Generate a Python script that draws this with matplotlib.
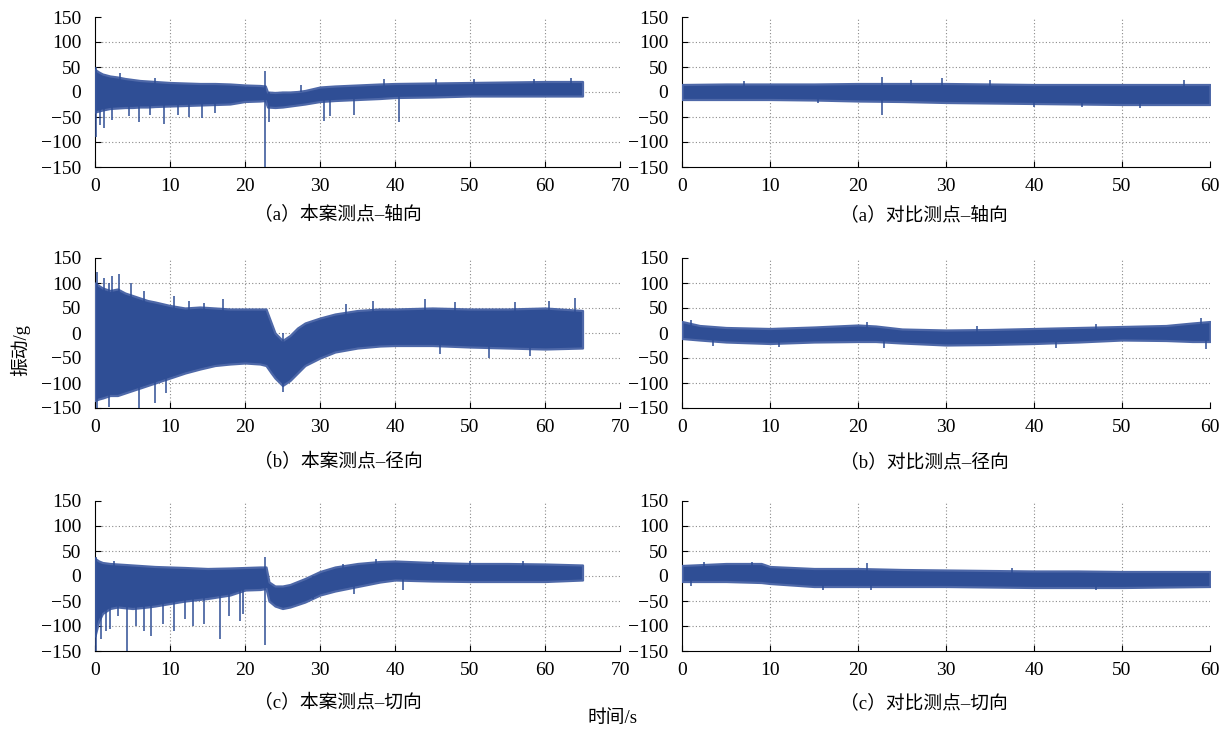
import numpy as np
import matplotlib.pyplot as plt

plt.rcParams['font.family'] = ['Liberation Serif', 'Noto Sans CJK SC']

SIG = '#2F4E95'
EDGE = '#4E68A8'

# ---- 本案测点 (0-65 s): envelope of the vibration band ----
t_a = [0, 0.5, 1, 2, 3, 4, 5, 6, 7, 8, 10, 12, 14, 16, 18, 20, 22, 22.7,
       23, 24, 25, 26, 27, 28, 30, 32, 35, 38, 40, 45, 50, 55, 60, 65]
up_a = [45, 40, 36, 32, 30, 27, 25, 23, 22, 21, 19, 18, 17, 17, 16, 14, 13, 12,
        0, -1, 0, 0, 1, 3, 10, 12, 14, 16, 17, 18, 19, 20, 21, 21]
lo_a = [-40, -38, -36, -33, -32, -31, -31, -30, -30, -29, -28, -27, -26, -25, -24, -19, -18, -17,
        -30, -31, -30, -28, -26, -24, -19, -17, -15, -13, -11, -10, -8, -8, -8, -8]
sp_a = [(0.1, 50, -90), (0.6, 30, -65), (1.2, 10, -72), (2.2, 10, -55), (3.3, 38, -10),
        (4.5, 0, -48), (5.9, 0, -60), (7.3, 0, -45), (9.2, 0, -63), (11.0, 0, -45),
        (12.5, 0, -50), (14.2, 0, -52), (16.0, 0, -42), (22.6, 42, -150), (23.2, 0, -60),
        (30.5, 0, -58), (31.3, 0, -48), (34.5, 0, -45), (40.5, 0, -60), (38.5, 26, 0),
        (8.0, 28, 0), (27.5, 14, 0), (45.5, 26, 0), (50.5, 26, 0), (58.5, 27, 0), (63.5, 28, 0)]

t_b = [0, 0.5, 1, 2, 3, 4, 5, 6, 7, 8, 10, 12, 14, 16, 18, 20, 22, 22.8,
       23.5, 24, 25, 26, 27, 28, 30, 32, 35, 38, 40, 45, 50, 55, 60, 65]
up_b = [100, 95, 90, 85, 88, 80, 75, 70, 65, 62, 55, 50, 52, 50, 48, 48, 48, 48,
        20, 0, -15, -5, 10, 20, 30, 38, 45, 48, 48, 50, 48, 48, 50, 45]
lo_b = [-135, -132, -130, -125, -125, -120, -115, -110, -105, -100, -90, -80, -72, -65, -62, -60, -62, -65,
        -80, -90, -105, -95, -80, -65, -50, -38, -30, -26, -25, -25, -28, -30, -32, -30]
sp_b = [(0.3, 122, -150), (1.8, 100, -148), (2.3, 115, 0), (3.2, 118, 0), (4.8, 100, 0),
        (5.8, 0, -150), (8.0, 0, -140), (12.5, 65, 0), (17.0, 68, 0), (25.0, 0, -118),
        (37.0, 65, 0), (44.0, 68, 0), (52.5, 0, -50), (64.0, 70, 0), (9.5, 0, -120),
        (1.2, 110, 0), (6.5, 85, 0), (10.5, 75, 0), (14.5, 60, 0), (33.5, 58, 0),
        (48.0, 62, 0), (56.0, 62, 0), (60.5, 64, 0), (46.0, 0, -42), (58.0, 0, -45)]

t_c = [0, 0.5, 1, 2, 3, 5, 7, 8, 10, 12, 15, 18, 20, 22, 22.8,
       23.2, 24, 25, 26, 28, 30, 32, 35, 38, 40, 45, 50, 55, 60, 65]
up_c = [35, 30, 27, 25, 24, 22, 20, 19, 18, 17, 15, 16, 17, 18, 18,
        -12, -20, -20, -17, -5, 9, 18, 25, 29, 30, 27, 25, 25, 24, 22]
lo_c = [-120, -90, -75, -65, -62, -65, -62, -60, -55, -50, -45, -38, -28, -27, -25,
        -50, -60, -65, -62, -52, -38, -30, -21, -12, -8, -10, -11, -11, -11, -8]
sp_c = [(0.1, 38, -150), (0.8, 0, -125), (1.5, 0, -110), (2.0, 0, -105), (3.0, 0, -80),
        (4.2, 0, -150), (5.5, 0, -100), (6.5, 0, -110), (7.5, 0, -120), (9.0, 0, -95),
        (10.5, 0, -110), (13.0, 0, -100), (14.5, 0, -95), (16.7, 0, -125), (19.3, 0, -90),
        (19.7, 0, -75), (22.7, 38, -138), (34.5, 0, -35), (41.0, 0, -28), (37.5, 34, 0),
        (50.0, 30, 0), (12.0, 0, -85), (17.8, 0, -80), (2.5, 30, 0), (29.0, 0, -45),
        (33.0, 24, 0), (45.0, 30, 0), (57.0, 30, 0)]

# ---- 对比测点 (0-60 s) ----
t_d = [0, 5, 10, 15, 20, 25, 30, 35, 40, 45, 50, 55, 60]
up_d = [15, 16, 16, 16, 17, 17, 17, 16, 15, 15, 15, 15, 15]
lo_d = [-15, -15, -15, -16, -18, -19, -21, -22, -23, -24, -25, -25, -25]
sp_d = [(22.7, 30, -45), (29.5, 28, 0), (35.0, 25, 0), (57.0, 24, 0), (15.5, 0, -22),
        (40.0, 0, -30), (45.5, 0, -30), (52.0, 0, -31), (7.0, 22, 0), (26.0, 24, 0)]

t_e = [0, 2, 5, 10, 15, 20, 22, 25, 30, 35, 40, 45, 50, 55, 58, 60]
up_e = [23, 15, 11, 9, 12, 16, 14, 8, 6, 7, 9, 11, 13, 15, 20, 23]
lo_e = [-11, -14, -18, -21, -18, -17, -17, -20, -24, -23, -21, -18, -14, -15, -17, -17]
sp_e = [(11.0, 0, -28), (23.0, 0, -30), (42.5, 0, -29), (59.5, 0, -32), (59.0, 30, 0),
        (21.0, 22, 0), (3.5, 0, -25), (1.0, 26, 0), (33.5, 15, 0), (47.0, 18, 0)]

t_f = [0, 5, 9, 10, 15, 20, 25, 30, 35, 40, 45, 50, 55, 60]
up_f = [21, 25, 25, 19, 15, 15, 13, 12, 11, 10, 10, 9, 9, 9]
lo_f = [-11, -11, -13, -15, -21, -21, -21, -21, -22, -23, -23, -23, -22, -21]
sp_f = [(16.0, 0, -28), (21.5, 0, -28), (47.0, 0, -28), (21.0, 26, 0), (2.5, 28, 0),
        (8.0, 29, 0), (1.0, 0, -20), (37.5, 16, 0)]

captions = ['（a）本案测点–轴向', '（a）对比测点–轴向',
            '（b）本案测点–径向', '（b）对比测点–径向',
            '（c）本案测点–切向', '（c）对比测点–切向']

panels = [(t_a, up_a, lo_a, sp_a, 70), (t_d, up_d, lo_d, sp_d, 60),
          (t_b, up_b, lo_b, sp_b, 70), (t_e, up_e, lo_e, sp_e, 60),
          (t_c, up_c, lo_c, sp_c, 70), (t_f, up_f, lo_f, sp_f, 60)]

fig = plt.figure(figsize=(12.24, 7.30), dpi=100)
W, H = 1224.0, 730.0
lefts = [95, 682]
widths = [525, 528]
tops = [17, 258, 501]
cap_y = [215, 462, 703]
cap_x = [338, 924]

for i, (t, up, lo, sp, xmax) in enumerate(panels):
    r, c = divmod(i, 2)
    ax = fig.add_axes([lefts[c] / W, 1 - (tops[r] + 150) / H, widths[c] / W, 150 / H])
    ax.fill_between(t, lo, up, color=SIG, edgecolor=EDGE, linewidth=1.6, zorder=3)
    for (x, y1, y0) in sp:
        ax.vlines(x, y0, y1, color=SIG, linewidth=1.1, zorder=3)
    ax.set_xlim(0, xmax)
    ax.set_ylim(-150, 150)
    ax.set_xticks(np.arange(0, xmax + 1, 10))
    ax.set_yticks([-150, -100, -50, 0, 50, 100, 150])
    ax.set_yticklabels(['−150', '−100', '−50', '0', '50', '100', '150'])
    for y in [-100, -50, 0, 50, 100]:
        ax.axhline(y, color='#8a8a8a', linestyle=(0, (1, 2)), linewidth=0.8, zorder=1)
    for x in range(10, xmax, 10):
        ax.axvline(x, color='#8a8a8a', linestyle=(0, (1, 2)), linewidth=0.8, zorder=1)
    ax.spines['top'].set_visible(False)
    ax.spines['right'].set_visible(False)
    ax.tick_params(direction='in', length=4, labelsize=14)
    ax.tick_params(axis='y', pad=10)
    ax.tick_params(axis='x', pad=8)
    fig.text(cap_x[c] / W, 1 - cap_y[r] / H, captions[i], ha='center', va='center', fontsize=13.5)

fig.text(20 / W, 1 - 350 / H, '振动/g', rotation=90, ha='center', va='center', fontsize=13.5)
fig.text(612 / W, 1 - 718 / H, '时间/s', ha='center', va='center', fontsize=13.5)

fig.savefig('out.png', dpi=100)
